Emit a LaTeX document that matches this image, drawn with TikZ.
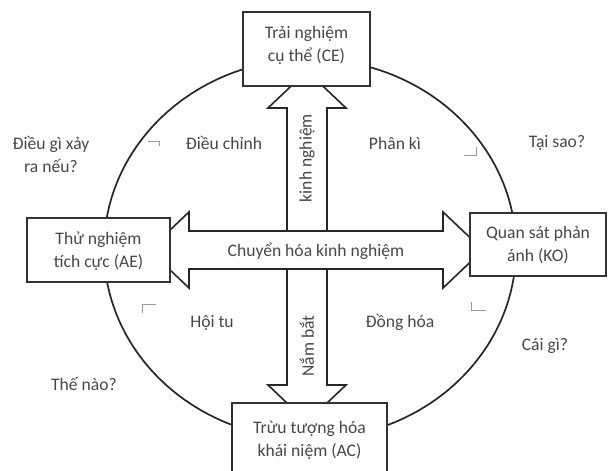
\documentclass[tikz,border=0pt]{standalone}
\usepackage{fontspec}
\setmainfont{Carlito}
\begin{document}
\begin{tikzpicture}[x=1pt,y=-1pt,
  box/.style={draw=black!80, line width=2pt, fill=white, inner sep=0pt},
  blockarrow/.style={draw=black!85, line width=1.6pt, fill=white, line join=miter},
  lbl/.style={text=black!72, font=\fontsize{17.6}{23}\selectfont, align=center, inner sep=0pt},
  cyc/.style={draw=black!85, line width=1.7pt},
  tickmark/.style={draw=black!40, line width=0.9pt}]
\useasboundingbox (0,0) rectangle (608,471);
\clip (0,0) rectangle (608,471);
% cycle
\draw[cyc] (310,249) ellipse [x radius=206, y radius=190];
% vertical block arrow
\draw[blockarrow] (307,71) -- (346,108) -- (327,108) -- (327,385) -- (346,385)
  -- (307,422) -- (268,385) -- (287,385) -- (287,108) -- (268,108) -- cycle;
% horizontal block arrow
\draw[blockarrow] (149,250) -- (189,212) -- (189,231) -- (443,231) -- (443,212)
  -- (483,250) -- (443,288) -- (443,269) -- (189,269) -- (189,288) -- cycle;
% boxes
\node[box, minimum width=127, minimum height=74] (ce) at (306.5,49) {};
\node[box, minimum width=143, minimum height=64] (ae) at (98.5,250) {};
\node[box, minimum width=136, minimum height=63] (ko) at (538,244.5) {};
\node[box, minimum width=155, minimum height=92] (ac) at (309.5,449) {};
% box texts
\node[lbl] (ceT) at (306.5,45) {Trải nghiệm\\cụ thể (CE)};
\node[lbl] (aeT) at (98.5,251) {Thử nghiệm\\tích cực (AE)};
\node[lbl] (koT) at (538,245.5) {Quan sát phản\\ánh (KO)};
\node[lbl] (acT) at (309.5,440.5) {Trừu tượng hóa\\khái niệm (AC)};
% arrow texts
\node[lbl] (mid) at (316,251) {Chuyển hóa kinh nghiệm};
\node[lbl, rotate=90] (kn) at (307,158) {kinh nghiệm};
\node[lbl, rotate=90] (nb) at (307,346) {Nắm bắt};
% quadrant labels
\node[lbl] (q1) at (224,143) {Điều chỉnh};
\node[lbl] (q2) at (395,143) {Phân kì};
\node[lbl] (q3) at (212,323) {Hội tu};
\node[lbl] (q4) at (400,322) {Đồng hóa};
% outer questions
\node[lbl] (o1) at (51,154) {Điều gì xảy\\ra nếu?};
\node[lbl] (o2) at (557,143) {Tại sao?};
\node[lbl] (o3) at (545,346) {Cái gì?};
\node[lbl] (o4) at (84,384) {Thế nào?};
% small corner marks
\draw[tickmark] (148,141) -- (159,141) -- (159,146);
\draw[tickmark] (464,155) -- (476,155) -- (476,147);
\draw[tickmark] (142,313) -- (142,304) -- (156,304);
\draw[tickmark] (471,302) -- (471,310) -- (486,310);
\end{tikzpicture}
\end{document}
